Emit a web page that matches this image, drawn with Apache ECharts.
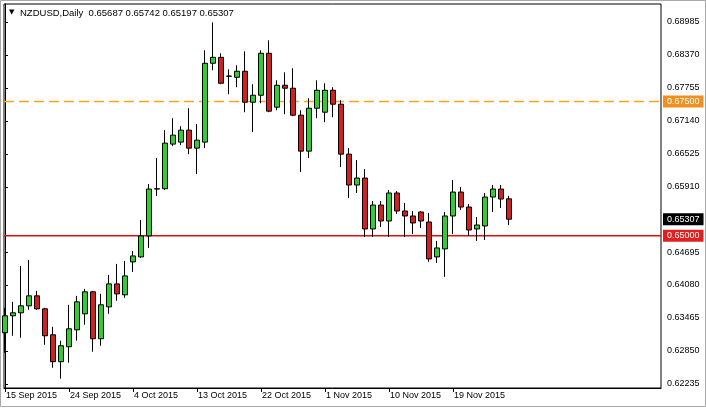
<!DOCTYPE html>
<html>
<head>
<meta charset="utf-8">
<script src="https://cdn.jsdelivr.net/npm/echarts@6/dist/echarts.min.js"></script>
<style>
  html, body { margin: 0; padding: 0; background: #fff; }
  #chart { width: 706px; height: 408px; }
</style>
</head>
<body>
<div id="chart"></div>
<script>
// NZDUSD daily candles
const dates = [
  '15 Sep 2015', '16 Sep 2015', '17 Sep 2015', '18 Sep 2015', '20 Sep 2015', '21 Sep 2015', '22 Sep 2015',
  '23 Sep 2015', '24 Sep 2015', '25 Sep 2015', '27 Sep 2015', '28 Sep 2015', '29 Sep 2015', '30 Sep 2015',
  '1 Oct 2015', '2 Oct 2015', '4 Oct 2015', '5 Oct 2015', '6 Oct 2015', '7 Oct 2015', '8 Oct 2015',
  '9 Oct 2015', '11 Oct 2015', '12 Oct 2015', '13 Oct 2015', '14 Oct 2015', '15 Oct 2015', '16 Oct 2015',
  '18 Oct 2015', '19 Oct 2015', '20 Oct 2015', '21 Oct 2015', '22 Oct 2015', '23 Oct 2015', '25 Oct 2015',
  '26 Oct 2015', '27 Oct 2015', '28 Oct 2015', '29 Oct 2015', '30 Oct 2015',
  '1 Nov 2015', '2 Nov 2015', '3 Nov 2015', '4 Nov 2015', '5 Nov 2015', '6 Nov 2015', '8 Nov 2015',
  '9 Nov 2015', '10 Nov 2015', '11 Nov 2015', '12 Nov 2015', '13 Nov 2015', '15 Nov 2015', '16 Nov 2015',
  '17 Nov 2015', '18 Nov 2015', '19 Nov 2015', '20 Nov 2015', '22 Nov 2015', '23 Nov 2015', '24 Nov 2015',
  '25 Nov 2015', '26 Nov 2015', '27 Nov 2015'
];
const opens = [
  0.63190, 0.63506, 0.63562, 0.63692, 0.63878, 0.63636, 0.63152, 0.62650, 0.62929, 0.63245,
  0.63543, 0.63953, 0.63078, 0.63673, 0.64101, 0.63897, 0.64511, 0.64604, 0.64995, 0.65869,
  0.65875, 0.66707, 0.66744, 0.66967, 0.66632, 0.66744, 0.68214, 0.68325, 0.67972, 0.67953,
  0.68065, 0.67488, 0.67618, 0.68400, 0.67395, 0.67804, 0.67749, 0.67246, 0.66576, 0.67376,
  0.67302, 0.67711, 0.67451, 0.66520, 0.65944, 0.66074, 0.65125, 0.65571, 0.65274, 0.65795,
  0.65460, 0.65367, 0.65441, 0.65255, 0.64604, 0.64753, 0.65367, 0.65813, 0.65534, 0.65125,
  0.65181, 0.65720, 0.65869, 0.65687
];
const highs = [
  0.63655, 0.63766, 0.64436, 0.64548, 0.63971, 0.63655, 0.63301, 0.63041, 0.63711, 0.63878,
  0.64008, 0.63971, 0.63915, 0.64269, 0.64474, 0.64529, 0.64715, 0.65292, 0.65962, 0.66446,
  0.66967, 0.67190, 0.67041, 0.67376, 0.67079, 0.68456, 0.68977, 0.68400, 0.68102, 0.68177,
  0.68437, 0.67823, 0.68456, 0.68642, 0.67897, 0.68046, 0.68121, 0.67339, 0.67563, 0.67897,
  0.67842, 0.67767, 0.67525, 0.66632, 0.66409, 0.66241, 0.65646, 0.65646, 0.65851, 0.65832,
  0.65609, 0.65460, 0.65460, 0.65423, 0.64902, 0.65441, 0.66037, 0.65906, 0.65590, 0.65348,
  0.65795, 0.65944, 0.65944, 0.65742
];
const lows = [
  0.62817, 0.63134, 0.63097, 0.63618, 0.63618, 0.62966, 0.62538, 0.62334, 0.62631, 0.63041,
  0.63338, 0.62836, 0.62948, 0.63543, 0.63785, 0.63841, 0.64325, 0.64585, 0.64771, 0.65739,
  0.65851, 0.66669, 0.66688, 0.66520, 0.66148, 0.66632, 0.68084, 0.67823, 0.67637, 0.67767,
  0.67302, 0.66930, 0.67469, 0.67302, 0.67339, 0.67265, 0.67228, 0.66186, 0.66446, 0.67190,
  0.67116, 0.67209, 0.66279, 0.65702, 0.65795, 0.64976, 0.64976, 0.65162, 0.64976, 0.65404,
  0.64976, 0.65032, 0.65143, 0.64511, 0.64492, 0.64232, 0.65032, 0.65478, 0.64995, 0.64902,
  0.64920, 0.65441, 0.65516, 0.65197
];
const closes = [
  0.63506, 0.63562, 0.63692, 0.63878, 0.63636, 0.63134, 0.62650, 0.62948, 0.63264, 0.63766,
  0.63953, 0.63078, 0.63711, 0.64101, 0.63915, 0.64250, 0.64622, 0.64995, 0.65869, 0.65875,
  0.66725, 0.66874, 0.66967, 0.66632, 0.66781, 0.68214, 0.68325, 0.67842, 0.67975, 0.68065,
  0.67488, 0.67618, 0.68400, 0.67321, 0.67804, 0.67749, 0.67246, 0.66576, 0.67376, 0.67711,
  0.67711, 0.67451, 0.66520, 0.65944, 0.66074, 0.65125, 0.65571, 0.65274, 0.65795, 0.65460,
  0.65367, 0.65237, 0.65274, 0.64567, 0.64771, 0.65367, 0.65813, 0.65534, 0.65106, 0.65199,
  0.65720, 0.65869, 0.65683, 0.65307
];
// axis labels as printed on the chart
const priceTicks = [0.68985, 0.68370, 0.67755, 0.67140, 0.66525, 0.65910, 0.64695, 0.64080, 0.63465, 0.62850, 0.62235];
const dateTicks = ['15 Sep 2015', '24 Sep 2015', '4 Oct 2015', '13 Oct 2015', '22 Oct 2015', '1 Nov 2015', '10 Nov 2015', '19 Nov 2015'];
const resistance = 0.675;
const support = 0.65;

const last = dates.length - 1;
const candles = dates.map((d, i) => [i, opens[i], closes[i], lows[i], highs[i]]);
const header = 'NZDUSD,Daily  ' + [opens[last], highs[last], lows[last], closes[last]].map(v => v.toFixed(5)).join(' ');
const font = 'Liberation Sans';
// visible bar range: the first candle sits half cut at the left border
const xMin = -0.125, xMax = 82;

// a horizontal level across the whole plot, price box on the right axis
function level(value, lineColor, dash, width, boxColor) {
  return {
    type: 'line',
    data: [[xMin, value], [xMax, value]],
    showSymbol: false,
    silent: true,
    z: 3,
    lineStyle: { color: lineColor, type: dash, width: width },
    emphasis: { disabled: true },
    endLabel: {
      show: true, distance: 2, formatter: p => p.value[1].toFixed(5),
      color: '#fff', backgroundColor: boxColor, fontFamily: font, fontSize: 9, padding: [2, 4, 1, 4]
    }
  };
}

const chart = echarts.init(document.getElementById('chart'));
chart.setOption({
  animation: false,
  backgroundColor: '#fff',
  grid: { left: 4, right: 45, top: 4, bottom: 20, show: true, borderColor: '#000', borderWidth: 1 },
  xAxis: {
    type: 'value',
    min: xMin,
    max: xMax,
    axisLine: { lineStyle: { color: '#000' } },
    axisTick: { show: true, length: 4, lineStyle: { color: '#000' }, customValues: dateTicks.map(d => dates.indexOf(d)) },
    axisLabel: {
      customValues: dateTicks.map(d => dates.indexOf(d)),
      formatter: v => dates[v],
      align: 'left', margin: 3, color: '#000', fontFamily: font, fontSize: 9, padding: [0, 0, 0, 1]
    },
    splitLine: { show: false }
  },
  yAxis: {
    type: 'value',
    position: 'right',
    min: 0.62160,
    max: 0.69319,
    axisLine: { show: true, lineStyle: { color: '#000' } },
    axisTick: { show: true, length: 3, lineStyle: { color: '#000' }, customValues: priceTicks },
    axisLabel: {
      customValues: priceTicks,
      formatter: v => v.toFixed(5),
      margin: 6, color: '#000', fontFamily: font, fontSize: 9
    },
    splitLine: { show: false }
  },
  graphic: [
    { type: 'rect', silent: true, shape: { x: 0.5, y: 0.5, width: 705, height: 406 }, style: { fill: null, stroke: '#a8a8a8' } },
    { type: 'text', left: 9, top: 9, style: { text: '▼', font: '7px DejaVu Sans', fill: '#000' } },
    { type: 'text', left: 20, top: 8, style: { text: header, font: '9.5px ' + font, fill: '#000' } }
  ],
  series: [
    {
      type: 'candlestick',
      data: candles,
      dimensions: ['day', 'open', 'close', 'lowest', 'highest'],
      encode: { x: 0, y: [1, 2, 3, 4] },
      barWidth: 5,
      z: 4,
      itemStyle: {
        color: '#2fcf2f', color0: '#d02020',
        borderColor: '#000', borderColor0: '#000', borderColorDoji: '#000', borderWidth: 1
      }
    },
    level(resistance, '#ffa020', [10, 5], 1.5, '#f09020'),
    level(support, '#e01010', 'solid', 1.5, '#e02020'),
    level(closes[last], 'rgba(0,0,0,0)', 'solid', 1, '#000')
  ]
});
</script>
</body>
</html>
